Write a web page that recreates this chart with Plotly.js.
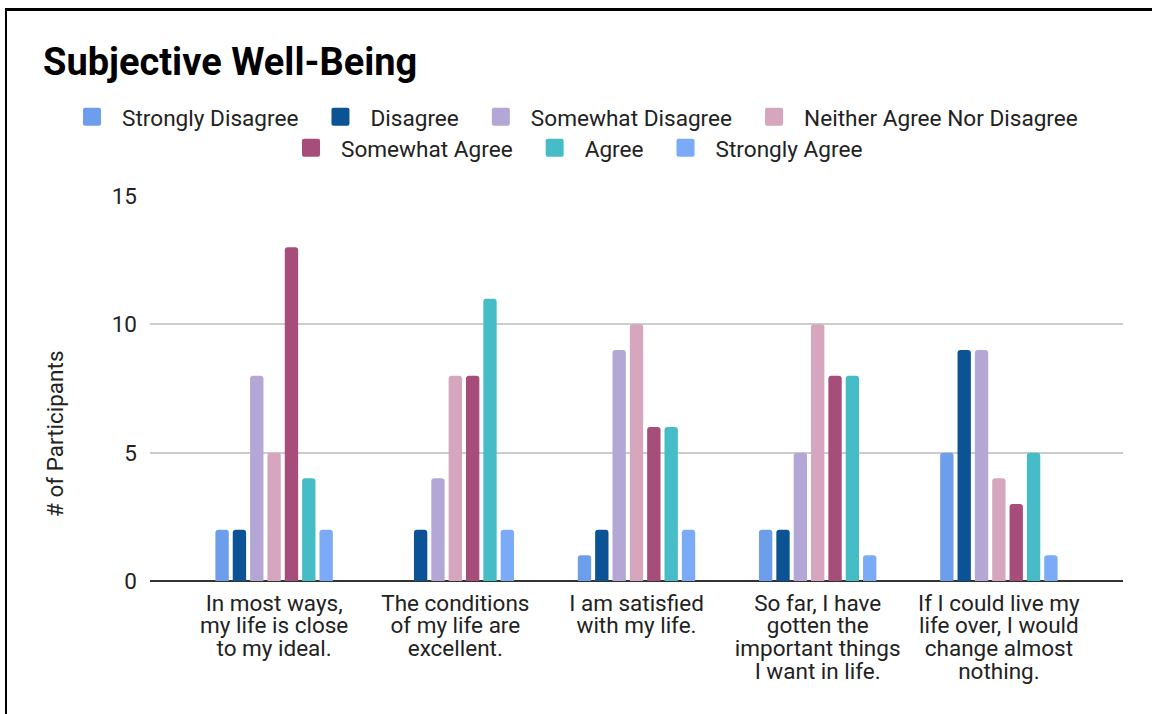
<!DOCTYPE html>
<html>
<head>
<meta charset="utf-8">
<script src="https://cdn.plot.ly/plotly-3.0.1.min.js"></script>
<style>
  html, body { margin: 0; padding: 0; background: #fff; }
  #wrap { position: relative; width: 1152px; height: 714px; overflow: hidden; }
  #chart { position: absolute; left: 0; top: 0; width: 1152px; height: 714px; }
  .edge-top { position: absolute; left: 5px; top: 8px; width: 1147px; height: 3px; background: #000; }
  .edge-left { position: absolute; left: 5px; top: 8px; width: 2px; height: 706px; background: #000; }
</style>
</head>
<body>
<div id="wrap">
  <div id="chart"></div>
  <div class="edge-top"></div>
  <div class="edge-left"></div>
</div>
<script>
const categories = [
  "In most ways,<br>my life is close<br>to my ideal.",
  "The conditions<br>of my life are<br>excellent.",
  "I am satisfied<br>with my life.",
  "So far, I have<br>gotten the<br>important things<br>I want in life.",
  "If I could live my<br>life over, I would<br>change almost<br>nothing."
];
const seriesNames = [
  "Strongly Disagree", "Disagree", "Somewhat Disagree",
  "Neither Agree Nor Disagree", "Somewhat Agree", "Agree", "Strongly Agree"
];
const stronglyDisagree = [2, 0, 1, 2, 5];
const disagree         = [2, 2, 2, 2, 9];
const somewhatDisagree = [8, 4, 9, 5, 9];
const neither          = [5, 8, 10, 10, 4];
const somewhatAgree    = [13, 8, 6, 8, 3];
const agree            = [4, 11, 6, 8, 5];
const stronglyAgree    = [2, 2, 2, 1, 1];
const seriesValues = [stronglyDisagree, disagree, somewhatDisagree, neither, somewhatAgree, agree, stronglyAgree];
const colors = ["#6d9eeb", "#0b5394", "#b4a7d6", "#d5a6bd", "#a64d79", "#46bdc6", "#7baaf7"];
const legendRow = ["legend", "legend", "legend", "legend", "legend2", "legend2", "legend2"];
const yTicks = [0, 5, 10, 15];

const FONT = "Roboto, 'Open Sans', sans-serif";
const TXT = "#222222";

const traces = seriesNames.map((name, i) => ({
  type: "bar",
  name: name,
  x: categories,
  y: seriesValues[i],
  legend: legendRow[i],
  marker: { color: colors[i], cornerradius: 3 },
  hoverinfo: "name+y"
}));

const legendBase = {
  orientation: "h",
  xref: "paper", yref: "paper",
  xanchor: "left", yanchor: "middle",
  font: { size: 22.6, color: TXT, family: FONT },
  traceorder: "normal",
  itemclick: false,
  itemwidth: 57,
  bgcolor: "rgba(0,0,0,0)",
  borderwidth: 0
};

const layout = {
  width: 1152,
  height: 714,
  paper_bgcolor: "#ffffff",
  plot_bgcolor: "#ffffff",
  font: { family: FONT, color: TXT, size: 22.5 },
  margin: { l: 150, r: 29, t: 196, b: 133, pad: 0, autoexpand: false },
  title: {
    text: "Subjective Well-Being",
    font: { family: FONT, size: 38, color: "#000000", weight: 700 },
    x: 43 / 1152, xref: "container", xanchor: "left",
    y: 1 - 62 / 714, yref: "container", yanchor: "middle"
  },
  barmode: "group",
  bargap: 0.33,
  bargroupgap: 0.23,
  showlegend: true,
  legend: Object.assign({}, legendBase, { x: (55 - 150) / 973, y: (581 - 117) / 385 }),
  legend2: Object.assign({}, legendBase, { x: (274 - 150) / 973, y: (581 - 148) / 385 }),
  xaxis: {
    type: "category",
    range: [-0.685, 4.685],
    showgrid: false,
    showline: false,
    zeroline: false,
    ticks: "",
    ticklabelstandoff: 6,
    tickfont: { size: 22.5, color: TXT, family: FONT },
    fixedrange: true
  },
  yaxis: {
    range: [0, 15],
    tickvals: yTicks,
    ticktext: yTicks.map(String),
    showgrid: true,
    gridcolor: "#cccccc",
    gridwidth: 1.5,
    zeroline: true,
    zerolinecolor: "#333333",
    zerolinewidth: 2,
    showline: false,
    ticks: "",
    ticklabelstandoff: 12,
    tickfont: { size: 22.5, color: TXT, family: FONT },
    fixedrange: true
  },
  annotations: [{
    text: "# of Participants",
    textangle: -90,
    xref: "paper", yref: "paper",
    x: (55 - 150) / 973, y: (581 - 434) / 385,
    xanchor: "center", yanchor: "middle",
    showarrow: false,
    font: { size: 22.5, color: TXT, family: FONT }
  }]
};

Plotly.newPlot("chart", traces, layout, { displayModeBar: false }).then(gd => {
  // larger rounded legend swatches, like the reference
  gd.querySelectorAll("g.legendpoints path").forEach(p => {
    p.setAttribute("d", "M-7,-9h14a2,2 0 0 1 2,2v14a2,2 0 0 1 -2,2h-14a2,2 0 0 1 -2,-2v-14a2,2 0 0 1 2,-2z");
    p.setAttribute("transform", "translate(37,0)");
  });
  // tighter line spacing for multi-line category labels
  gd.querySelectorAll(".xtick text tspan.line").forEach(t => {
    const dy = t.getAttribute("dy");
    if (dy && dy.indexOf("em") > 0) {
      const v = parseFloat(dy);
      if (v) t.setAttribute("dy", (v * 1.02 / 1.3).toFixed(3) + "em");
    }
  });
});
</script>
</body>
</html>
